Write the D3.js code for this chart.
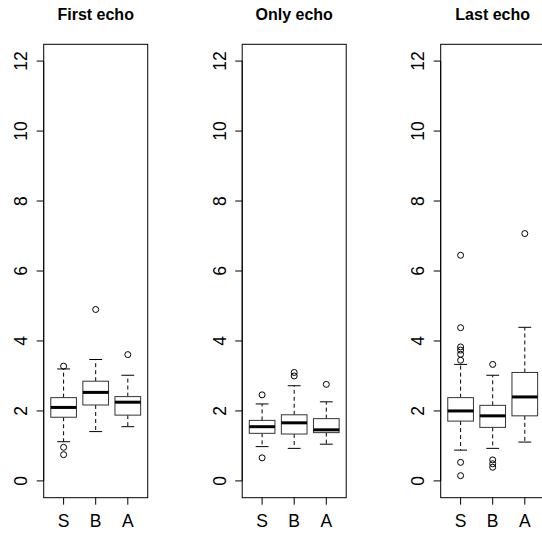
<!DOCTYPE html>
<meta charset="utf-8">
<script src="https://cdn.jsdelivr.net/npm/d3@7"></script>
<style>
    body { margin: 0; background: #fff; }
    text { font-family: "Liberation Sans", Arial, sans-serif; fill: #000; }
</style>
<svg></svg>
<script>
    // data: [lower whisker, q1, median, q3, upper whisker]
    var titles = ['First echo', 'Only echo', 'Last echo'];
    var groups = ['S', 'B', 'A'];
    var yTicks = [0, 2, 4, 6, 8, 10, 12];

    var firstStats = [[1.12, 1.82, 2.10, 2.38, 3.20], [1.41, 2.17, 2.53, 2.85, 3.47], [1.55, 1.88, 2.25, 2.41, 3.02]];
    var firstOut = [[3.28, 0.96, 0.75], [4.90], [3.61]];
    var onlyStats = [[0.98, 1.36, 1.55, 1.73, 2.20], [0.93, 1.34, 1.66, 1.89, 2.72], [1.05, 1.38, 1.46, 1.78, 2.26]];
    var onlyOut = [[2.46, 0.66], [3.10, 3.00], [2.76]];
    var lastStats = [[0.88, 1.71, 2.00, 2.38, 3.33], [0.93, 1.53, 1.86, 2.16, 3.02], [1.11, 1.86, 2.40, 3.10, 4.39]];
    var lastOut = [[3.45, 3.62, 3.74, 3.83, 4.38, 6.45, 0.53, 0.15], [3.33, 0.60, 0.49, 0.39], [7.07]];

    var stats = [firstStats, onlyStats, lastStats];
    var outs = [firstOut, onlyOut, lastOut];

    var svg = d3.select('svg').attr('width', 542).attr('height', 534);
    var plotW = 104, plotTop = 44.3, plotBottom = 497.7, step = 198.5, left0 = 43.7;

    var y = d3.scaleLinear().domain([-0.48, 12.48]).range([plotBottom, plotTop]);

    titles.forEach(function (title, p) {
        var left = left0 + p * step;
        var x = d3.scaleLinear().domain([0.38, 3.62]).range([left, left + plotW]);
        var g = svg.append('g');

        g.append('text')
            .attr('x', left + plotW / 2).attr('y', 20)
            .attr('text-anchor', 'middle')
            .style('font-weight', 'bold').style('font-size', '16px')
            .text(title);

        // y axis
        g.append('line')
            .attr('x1', left).attr('x2', left)
            .attr('y1', y(0)).attr('y2', y(12))
            .attr('stroke', '#000');
        yTicks.forEach(function (t) {
            g.append('line')
                .attr('x1', left - 7).attr('x2', left)
                .attr('y1', y(t)).attr('y2', y(t))
                .attr('stroke', '#000');
            g.append('text')
                .attr('transform', 'translate(' + (left - 23) + ',' + y(t) + ') rotate(-90)')
                .attr('dy', '0.36em')
                .attr('text-anchor', 'middle')
                .style('font-size', '17.5px')
                .text(t);
        });

        // x axis
        groups.forEach(function (lab, i) {
            g.append('line')
                .attr('x1', x(i + 1)).attr('x2', x(i + 1))
                .attr('y1', plotBottom).attr('y2', plotBottom + 7)
                .attr('stroke', '#000');
            g.append('text')
                .attr('x', x(i + 1)).attr('y', 527)
                .attr('text-anchor', 'middle')
                .style('font-size', '17.5px')
                .text(lab);
        });

        // boxes
        var boxes = g.selectAll('g.box').data(stats[p]).enter().append('g').attr('class', 'box');
        var bw = 0.4, sw = 0.2;
        boxes.append('line')
            .attr('x1', (d, i) => x(i + 1)).attr('x2', (d, i) => x(i + 1))
            .attr('y1', d => y(d[3])).attr('y2', d => y(d[4]))
            .attr('stroke', '#000').attr('stroke-dasharray', '4,3');
        boxes.append('line')
            .attr('x1', (d, i) => x(i + 1)).attr('x2', (d, i) => x(i + 1))
            .attr('y1', d => y(d[1])).attr('y2', d => y(d[0]))
            .attr('stroke', '#000').attr('stroke-dasharray', '4,3');
        boxes.append('line')
            .attr('x1', (d, i) => x(i + 1 - sw)).attr('x2', (d, i) => x(i + 1 + sw))
            .attr('y1', d => y(d[4])).attr('y2', d => y(d[4]))
            .attr('stroke', '#000');
        boxes.append('line')
            .attr('x1', (d, i) => x(i + 1 - sw)).attr('x2', (d, i) => x(i + 1 + sw))
            .attr('y1', d => y(d[0])).attr('y2', d => y(d[0]))
            .attr('stroke', '#000');
        boxes.append('rect')
            .attr('x', (d, i) => x(i + 1 - bw))
            .attr('width', (d, i) => x(i + 1 + bw) - x(i + 1 - bw))
            .attr('y', d => y(d[3]))
            .attr('height', d => y(d[1]) - y(d[3]))
            .attr('fill', '#fff').attr('stroke', '#333');
        boxes.append('line')
            .attr('x1', (d, i) => x(i + 1 - bw)).attr('x2', (d, i) => x(i + 1 + bw))
            .attr('y1', d => y(d[2])).attr('y2', d => y(d[2]))
            .attr('stroke', '#000').attr('stroke-width', 3);

        // outliers
        outs[p].forEach(function (vals, i) {
            g.selectAll(null).data(vals).enter().append('circle')
                .attr('cx', x(i + 1)).attr('cy', d => y(d))
                .attr('r', 3).attr('fill', 'none').attr('stroke', '#000');
        });

        // frame
        g.append('rect')
            .attr('x', left).attr('y', plotTop)
            .attr('width', plotW).attr('height', plotBottom - plotTop)
            .attr('fill', 'none').attr('stroke', '#000');
    });
</script>
